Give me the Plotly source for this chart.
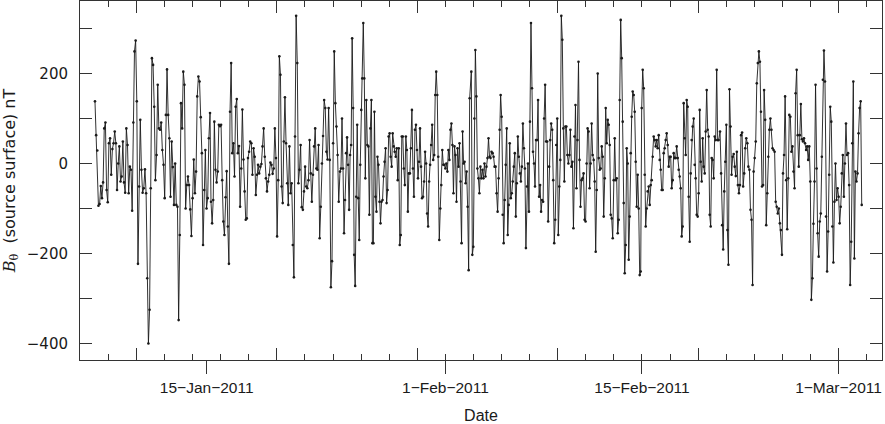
import pandas as pd
import plotly.graph_objects as go

# ---- data: B_theta (source surface), nT, in six consecutive runs ----
seg_start = ["2011-01-07 01:00", "2011-01-15 07:20", "2011-01-24 11:50",
             "2011-02-02 20:20", "2011-02-12 01:30", "2011-02-20 13:30"]
seg_end = ["2011-01-15 05:40", "2011-01-24 09:40", "2011-02-02 17:30",
           "2011-02-11 23:50", "2011-02-20 11:10", "2011-03-02 15:40"]

vals_a = [139, 64, 30, -93, -89, -49, -76, -41, 79, 92, -58, -85, 46, 57, -24, 33, 46, 72, 46, -58,
          1, 39, -39, -28, 50, -41, -64, 79, 42, -65, -6, -13, -104, 92, 250, 274, 139, -222, -50, 98,
          -13, -64, -54, -12, -65, -254, -399, -324, -54, 235, 220, 127, -36, 20, 176, 79, 76, 92, 31, -2,
          -76, 109, 210, 109, 57, -73, 50, -7, -91, 1, -91, -95, -347, -158, 135, 79, 205, 176, -99, -47,
          -28, -47, -101, -160, -76, 10, -65, -17, 150, 194, 183, 104, 24, -180, -58, 31, -99, -76, 57, 113]
vals_b = [-84, -132, -80, 94, -13, -41, -17, 87, 84, 87, -36, -128, -158, -74, -16, -139, -222, 116, 224, 24,
          46, -28, 127, 144, 24, 40, -95, -10, 121, 10, -61, -124, -121, 13, 27, 50, 46, -24, 35, 16,
          -69, -24, -2, -21, -6, 0, 39, 79, 16, -32, -61, -39, -24, 3, -2, -22, -10, 79, 13, -161,
          -36, 239, 198, -50, -87, 50, 148, 46, -43, -91, 39, -65, -43, -180, -252, 61, 329, 224, -43, -13,
          42, -96, -102, -61, -6, -50, -54, -36, 53, -21, -84, -24, 39, 79, -10, -13, 42, -165, -95, 1,
          62, 142, 124, 27, 10, 124, 9, -274, -216, 46, 250, 135, 83, 20, -84]
vals_c = [-17, -10, 101, -10, -154, -80, 24, 59, -2, -102, 20, 42, 279, 124, -202, -271, -73, 87, -76, -169,
          -2, 120, 190, 313, 190, -32, 142, 42, 39, -113, 79, 142, -176, -176, 116, -73, -106, 16, -2, -84,
          -132, -84, -80, -28, 5, 35, -87, -58, 61, 68, 16, -6, 68, 39, 27, 16, 35, -36, 35, -180,
          -158, 61, 61, -10, -47, 61, 31, -106, -21, -21, 35, 120, -10, -73, 76, 87, 31, -32, 5, 79,
          -6, -76, -73, -39, 27, 1, -110, -139, -39, -2, 42, 87, 9, 20, 153, 205, 153, 16, -169, -99,
          -47, 31, -2, -2, -10, 1, -17, 31, 9, 76, 90, 42, -65, 39, 20, -84, 35, -6, 46, -39,
          -176, 72, 1, 5, -43, -17, -95, -236, 146]
vals_d = [205, -202, -184, 101, 253, 150, -10, -32, -65, -6, -32, -13, -32, 1, -28, -6, 13, 57, 16, 13,
          27, 24, 16, -6, -6, -65, -106, -32, 76, 153, 105, -113, -176, -80, -2, 79, -158, -91, 46, -76,
          -65, -39, -6, 24, -117, -43, 61, 16, -21, -39, -6, 90, 35, -10, -187, -50, 1, -106, 94, 313,
          168, 27, 1, -50, 53, 53, 142, -73, -47, -106, -80, -84, 101, 176, 50, 50, -128, -6, 53, 90,
          76, -36, -176, -124, 42, 101, -158, -50, 9, 329, 276, 79, -39, 83, 83, 20, 1, 20, 76, -6,
          5, -143, 61, 131, -54, 53, 227, 9, -95, -36, -32, -21, -124, -128, 1, 79, 72, -54, 1, 90,
          20, 9, -39, -195, -58, 201, 13, -13]
vals_e = [-10, 39, 16, -117, -32, 124, 46, 98, 87, 42, -113, -121, -165, -36, 57, -36, -32, -154, -124, 142,
          320, 235, 94, -87, -243, -180, 35, 1, -213, -117, 24, 105, 161, 153, 116, 5, -95, -24, -99, -247,
          -239, 124, 209, 168, -24, -139, -99, -61, -50, -91, -47, -36, 16, 61, 53, 39, 53, 35, 64, 9,
          -13, -58, -58, 24, 35, 53, 68, 42, -6, 16, 16, -54, -36, 24, 13, 13, 39, 13, -13, -28,
          -54, -161, -139, 135, 57, 20, 142, 127, -73, -173, -21, 53, 83, 101, -2, -32, -113, -117, -65, 120,
          5, -39, 57, -6, -21, 72, 164, 76, 61, -113, -139, 13, 9, -32, 61, 53, 209, 53, 53]
vals_f = [72, -21, -136, -190, -61, 5, 87, -147, -224, 166, 83, -24, 16, 22, -6, -27, 27, -47, -65, -47,
          64, 70, -50, -21, 35, 57, 46, -6, -13, -102, -124, -269, -17, 13, 50, 179, 224, 250, 227, 116,
          -50, -47, 164, 98, -136, -65, 16, 76, 101, 76, 35, 31, 27, -84, -95, -110, -99, -132, -147, -202,
          -21, 20, 150, -36, -145, -32, 109, 105, 27, 39, -17, -54, 157, 209, 64, -6, 64, 133, 55, 50,
          57, 46, 31, 39, 9, 39, -39, -302, -254, -133, -39, 176, -10, -154, -206, -128, -110, 16, 187, 252,
          183, -117, -239, -150, -24, 127, 94, -139, -219, -84, 1, -80, -54, -73, -132, -95, -21, 20, -73, 1,
          90, 20, 24, -47, -269, -173, 46, 183, -210, -17, -39, -21, 68, 124, 139, -91]
seg_values = [vals_a, vals_b, vals_c, vals_d, vals_e, vals_f]

label_dates = ["2011-01-15", "2011-02-01", "2011-02-15", "2011-03-01"]
label_text = ["15\u2212Jan\u22122011", "1\u2212Feb\u22122011", "15\u2212Feb\u22122011", "1\u2212Mar\u22122011"]
long_tick_dates = ["2011-01-10", "2011-01-20", "2011-01-30", "2011-02-09", "2011-02-19", "2011-03-01"]
y_ticks = [-400, -200, 0, 200]
x_range = ["2011-01-05 23:25", "2011-03-04 02:20"]
y_range = [-435.6, 362]

times, values = [], []
for s, e, v in zip(seg_start, seg_end, seg_values):
    times.extend(pd.date_range(s, e, periods=len(v)))
    values.extend(v)

INK = "#1a1a1a"
FRAME = "#333333"
FONT = "Liberation Sans, Arial, sans-serif"

fig = go.Figure()
fig.add_trace(go.Scatter(x=times, y=values, mode="lines+markers",
                         line=dict(color=INK, width=0.9),
                         marker=dict(color=INK, size=2.6),
                         showlegend=False, hoverinfo="x+y"))
fig.add_trace(go.Scatter(x=times[:1], y=values[:1], xaxis="x2", mode="markers",
                         marker=dict(opacity=0), showlegend=False, hoverinfo="skip"))

fig.update_layout(
    width=885, height=424, autosize=False,
    margin=dict(l=80, r=3, t=1, b=64, autoexpand=False),
    paper_bgcolor="white", plot_bgcolor="white",
    font=dict(family=FONT, size=15.5, color="#1a1a1a"),
    xaxis=dict(type="date", range=x_range, tickmode="array", tickvals=label_dates, ticktext=label_text,
               ticks="outside", ticklen=13, tickwidth=1, tickcolor=FRAME,
               tickfont=dict(size=15.5), automargin=False,
               showline=True, linecolor=FRAME, linewidth=1, mirror=True,
               showgrid=False, zeroline=False,
               title=dict(text="Date", font=dict(size=16))),
    xaxis2=dict(type="date", overlaying="x", matches="x", anchor="y", side="bottom",
                range=x_range, tickmode="array", tickvals=long_tick_dates,
                ticks="inside", ticklen=12, tickwidth=1, tickcolor=FRAME,
                showticklabels=False, showline=True, linecolor=FRAME, mirror="allticks",
                showgrid=False, zeroline=False, automargin=False,
                minor=dict(ticks="inside", ticklen=6, tickwidth=1, tickcolor=FRAME,
                           tick0="2011-01-08", dtick=2 * 86400000, showgrid=False)),
    yaxis=dict(range=y_range, tickmode="array", tickvals=y_ticks,
               ticks="inside", ticklen=12, tickwidth=1, tickcolor=FRAME,
               tickfont=dict(family="DejaVu Sans, sans-serif", size=15), automargin=False,
               showline=True, linecolor=FRAME, linewidth=1, mirror="allticks",
               showgrid=False, zeroline=False, ticklabelstandoff=8,
               minor=dict(ticks="inside", ticklen=6, tickwidth=1, tickcolor=FRAME,
                          tick0=0, dtick=100, showgrid=False),
               title=dict(text="<span style=\"font-family:'DejaVu Serif'\"><i>B</i><sub>\u03b8</sub></span>"
                               "  (source surface) nT",
                          font=dict(family="DejaVu Sans, sans-serif", size=16))),
)

fig.write_html("out.html", config={"responsive": False, "displayModeBar": False},
               post_script="document.body.style.margin='0';document.body.style.overflow='hidden';")
